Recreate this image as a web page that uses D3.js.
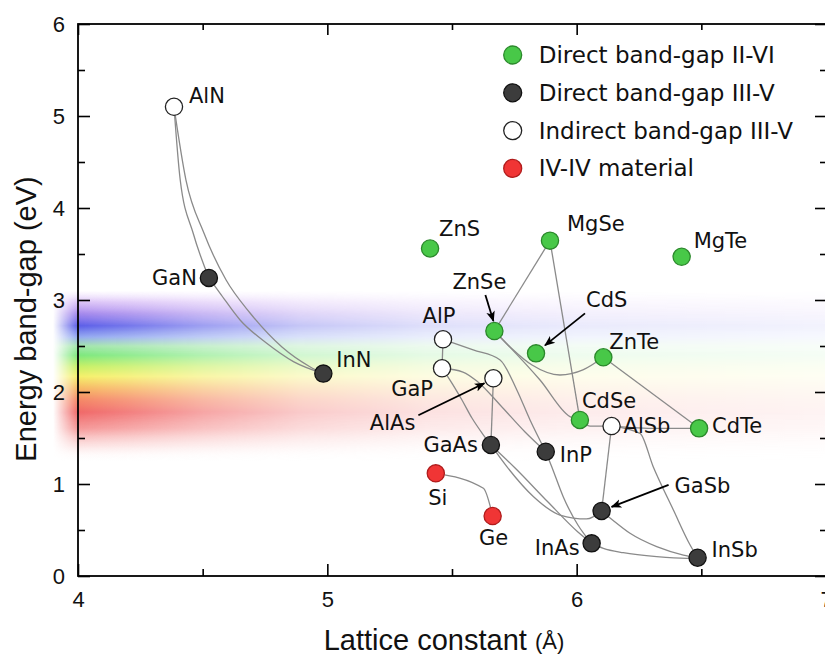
<!DOCTYPE html>
<html>
<head>
<meta charset="utf-8">
<script src="https://cdn.jsdelivr.net/npm/d3@7"></script>
<style>
  body { margin: 0; background: #fff; }
  svg { display: block; }
</style>
</head>
<body>
<script>
// Materials: lattice constant (Å) and band-gap (eV)
const materials = ["AlN", "GaN", "InN", "ZnS", "MgSe", "MgTe", "ZnSe", "CdS", "ZnTe",
  "AlP", "GaP", "AlAs", "CdSe", "AlSb", "CdTe", "GaAs", "InP", "Si", "Ge", "GaSb", "InAs", "InSb"];
const latticeConst = [4.385, 4.525, 4.984, 5.412, 5.893, 6.421, 5.670, 5.837, 6.107,
  5.464, 5.460, 5.666, 6.013, 6.140, 6.491, 5.656, 5.876, 5.435, 5.663, 6.100, 6.060, 6.485];
const bandGap = [5.10, 3.24, 2.20, 3.56, 3.645, 3.47, 2.663, 2.42, 2.377,
  2.573, 2.258, 2.149, 1.696, 1.63, 1.605, 1.424, 1.351, 1.116, 0.652, 0.707, 0.355, 0.199];
const materialType = ["ind", "dir", "dir", "ii", "ii", "ii", "ii", "ii", "ii",
  "ind", "ind", "ind", "ii", "ind", "ii", "dir", "dir", "iv", "iv", "dir", "dir", "dir"];

// Legend entries
const legendKeys = ["ii", "dir", "ind", "iv"];
const legendLabels = ["Direct band-gap II-VI", "Direct band-gap III-V", "Indirect band-gap III-V", "IV-IV material"];

// Alloy curves: endpoints plus points the curve passes through (Å, eV)
const links = [
  ["AlN", "GaN", [[4.41, 4.304], [4.462, 3.725]]],
  ["AlN", "InN", [[4.433, 4.304], [4.505, 3.728], [4.594, 3.217], [4.69, 2.859], [4.818, 2.489], [4.93, 2.275]]],
  ["GaN", "InN", [[4.57, 3.073], [4.65, 2.783], [4.757, 2.529], [4.864, 2.33]]],
  ["ZnSe", "MgSe", []],
  ["MgSe", "CdSe", []],
  ["ZnSe", "ZnTe", [[5.733, 2.489], [5.821, 2.293], [5.933, 2.185], [6.025, 2.24]]],
  ["ZnSe", "CdSe", [[5.853, 2.13], [5.973, 1.732]]],
  ["ZnTe", "CdTe", []],
  ["CdSe", "AlSb", [[6.053, 1.63]]],
  ["AlSb", "CdTe", [[6.321, 1.605]]],
  ["AlP", "GaP", []],
  ["AlP", "InP", [[5.585, 2.457], [5.693, 2.348], [5.76, 2.022], [5.813, 1.696]]],
  ["GaP", "InP", [[5.544, 2.217], [5.604, 2.109], [5.693, 1.859], [5.793, 1.565]]],
  ["GaP", "GaAs", [[5.492, 2.13], [5.54, 1.913], [5.58, 1.717], [5.624, 1.54]]],
  ["AlAs", "GaAs", []],
  ["GaAs", "InAs", [[5.753, 1.174], [5.885, 0.804], [6.005, 0.478]]],
  ["GaAs", "GaSb", [[5.72, 1.188], [5.827, 0.862], [5.933, 0.663], [6.04, 0.62]]],
  ["InP", "InAs", [[5.9, 1.188], [5.946, 0.862], [6.005, 0.554]]],
  ["AlSb", "GaSb", []],
  ["AlSb", "InSb", [[6.254, 1.551], [6.307, 1.188], [6.388, 0.717], [6.455, 0.337]]],
  ["GaSb", "InSb", [[6.144, 0.609], [6.214, 0.464], [6.321, 0.319], [6.428, 0.228]]],
  ["InAs", "InSb", [[6.107, 0.301], [6.187, 0.253], [6.321, 0.21], [6.441, 0.192]]],
  ["Si", "Ge", [[5.626, 0.953]]]
];

// Rainbow band (visible spectrum) colour stops by photon energy (eV)
const spectrumEnergy = [3.10, 2.98, 2.86, 2.72, 2.60, 2.50, 2.40, 2.28, 2.17, 2.04, 1.92, 1.78, 1.60, 1.42, 1.24];
const spectrumColor = ["#d8b4f8", "#c095f2", "#9a78ea", "#5b5ee8", "#8ea4f0", "#9ee4a8", "#7de87d", "#c6f066",
  "#f5f06a", "#f7b864", "#f58a66", "#f06868", "#f38888", "#f8bcbc", "#ffffff"];
const spectrumOpacity = [0, 0.55, 0.85, 1, 0.95, 0.95, 1, 1, 1, 1, 1, 1, 0.85, 0.45, 0];

const xTicks = [4, 5, 6, 7];
const xMinor = [4.5, 5.5, 6.5];
const yTicks = [0, 1, 2, 3, 4, 5, 6];
const yMinor = [0.5, 1.5, 2.5, 3.5, 4.5, 5.5];

// Label placement (pixels from the point, text baseline)
const labelPos = {
  AlN: [15, -4, "start"], GaN: [-12, 7, "end"], InN: [13, -7, "start"], ZnS: [9, -12, "start"],
  MgSe: [17, -10, "start"], MgTe: [12, -9, "start"], ZnSe: [-15, -42, "middle"], CdS: [50, -46, "start"],
  ZnTe: [6, -8, "start"], AlP: [-4, -16, "middle"], GaP: [-9, 28, "end"], AlAs: [-78, 52, "end"],
  CdSe: [2, -12, "start"], AlSb: [12, 7, "start"], CdTe: [13, 5, "start"], GaAs: [-13, 7, "end"],
  InP: [14, 10, "start"], Si: [2, 32, "middle"], Ge: [1, 29, "middle"], GaSb: [73, -18, "start"],
  InAs: [-12, 12, "end"], InSb: [14, -1, "start"]
};
// Arrows: [material, start dx, start dy, end dx, end dy]
const arrows = [
  ["ZnSe", -9, -36, -1, -10],
  ["CdS", 49, -40, 9, -8],
  ["AlAs", -75, 37, -9, 5],
  ["GaSb", 67, -26, 10, -4]
];

const fills = { ii: "#48c848", dir: "#3c3c3c", ind: "#ffffff", iv: "#f03535" };
const strokes = { ii: "#2b882b", dir: "#111111", ind: "#222222", iv: "#b01c1c" };

const W = 825, H = 657;
const margin = { top: 24, right: -1, bottom: 81, left: 78 };
const width = W - margin.left - margin.right;
const height = H - margin.top - margin.bottom;

const svg = d3.select("body").append("svg")
  .attr("width", W)
  .attr("height", H);

const g = svg.append("g")
  .attr("transform", "translate(" + margin.left + "," + margin.top + ")");

const x = d3.scaleLinear().domain([4, 7]).range([0, width]);
const y = d3.scaleLinear().domain([0, 6]).range([height, 0]);

const pts = {};
materials.forEach((m, i) => { pts[m] = { name: m, a: latticeConst[i], e: bandGap[i], type: materialType[i] }; });

// Rainbow band
const defs = svg.append("defs");
const vg = defs.append("linearGradient")
  .attr("id", "spectrum")
  .attr("gradientUnits", "userSpaceOnUse")
  .attr("x1", 0).attr("x2", 0)
  .attr("y1", y(spectrumEnergy[0])).attr("y2", y(spectrumEnergy[spectrumEnergy.length - 1]));
const span = spectrumEnergy[0] - spectrumEnergy[spectrumEnergy.length - 1];
spectrumEnergy.forEach((e, i) => {
  vg.append("stop")
    .attr("offset", (spectrumEnergy[0] - e) / span)
    .attr("stop-color", spectrumColor[i])
    .attr("stop-opacity", spectrumOpacity[i]);
});
const fadeX = [3.9, 4.0, 4.2, 4.5, 4.9, 5.4, 6.0, 7.0];
const fadeA = [0, 1, 0.85, 0.6, 0.35, 0.2, 0.13, 0.08];
const hg = defs.append("linearGradient")
  .attr("id", "fade")
  .attr("gradientUnits", "userSpaceOnUse")
  .attr("x1", x(fadeX[0])).attr("x2", x(fadeX[fadeX.length - 1]))
  .attr("y1", 0).attr("y2", 0);
fadeX.forEach((v, i) => {
  hg.append("stop")
    .attr("offset", (v - fadeX[0]) / (fadeX[fadeX.length - 1] - fadeX[0]))
    .attr("stop-color", "#fff")
    .attr("stop-opacity", fadeA[i]);
});
defs.append("mask").attr("id", "fadeMask")
  .append("rect")
  .attr("x", x(fadeX[0])).attr("y", y(3.2))
  .attr("width", x(7) - x(fadeX[0])).attr("height", y(1.1) - y(3.2))
  .attr("fill", "url(#fade)");

g.append("rect")
  .attr("x", x(fadeX[0])).attr("y", y(3.2))
  .attr("width", x(7) - x(fadeX[0])).attr("height", y(1.1) - y(3.2))
  .attr("fill", "url(#spectrum)")
  .attr("mask", "url(#fadeMask)");

// Arrow marker
defs.append("marker")
  .attr("id", "head")
  .attr("viewBox", "0 0 10 10")
  .attr("refX", 9).attr("refY", 5)
  .attr("markerWidth", 6).attr("markerHeight", 6)
  .attr("markerUnits", "strokeWidth")
  .attr("orient", "auto")
  .append("path")
  .attr("d", "M0,1 L10,5 L0,9 L2.5,5 Z")
  .attr("fill", "#000");

// Alloy curves
const line = d3.line()
  .x(d => x(d[0]))
  .y(d => y(d[1]))
  .curve(d3.curveMonotoneX);

g.selectAll(".link")
  .data(links)
  .enter().append("path")
  .attr("class", "link")
  .attr("d", d => line([[pts[d[0]].a, pts[d[0]].e]].concat(d[2], [[pts[d[1]].a, pts[d[1]].e]])))
  .attr("fill", "none")
  .attr("stroke", "#8a8a8a")
  .attr("stroke-width", 1.3);

// Arrows
g.selectAll(".arrow")
  .data(arrows)
  .enter().append("line")
  .attr("class", "arrow")
  .attr("x1", d => x(pts[d[0]].a) + d[1])
  .attr("y1", d => y(pts[d[0]].e) + d[2])
  .attr("x2", d => x(pts[d[0]].a) + d[3])
  .attr("y2", d => y(pts[d[0]].e) + d[4])
  .attr("stroke", "#000")
  .attr("stroke-width", 1.8)
  .attr("marker-end", "url(#head)");

// Points
const pointData = materials.map(m => pts[m]);
g.selectAll(".pt")
  .data(pointData)
  .enter().append("circle")
  .attr("class", "pt")
  .attr("cx", d => x(d.a))
  .attr("cy", d => y(d.e))
  .attr("r", 8.6)
  .attr("fill", d => fills[d.type])
  .attr("stroke", d => strokes[d.type])
  .attr("stroke-width", 1.3);

// Point labels
g.selectAll(".lbl")
  .data(pointData)
  .enter().append("text")
  .attr("class", "lbl")
  .attr("x", d => x(d.a) + labelPos[d.name][0])
  .attr("y", d => y(d.e) + labelPos[d.name][1])
  .attr("text-anchor", d => labelPos[d.name][2])
  .style("font-family", "DejaVu Sans, Verdana, sans-serif")
  .style("font-size", "21px")
  .style("fill", "#111")
  .text(d => d.name);

// Axes (ticks pointing inward on all four sides)
const font = "Liberation Sans, Arial, sans-serif";
function styleAxis(sel) {
  sel.select(".domain").remove();
  sel.selectAll("line").attr("stroke", "#000").attr("stroke-width", 1.6);
  sel.selectAll("text").style("font-family", font).style("font-size", "22px").style("fill", "#111");
}
g.append("g").attr("transform", "translate(0," + height + ")")
  .call(d3.axisBottom(x).tickValues(xTicks).tickFormat(d3.format("d")).tickSizeInner(-12).tickSizeOuter(0).tickPadding(15))
  .call(styleAxis);
g.append("g").attr("transform", "translate(0," + height + ")")
  .call(d3.axisBottom(x).tickValues(xMinor).tickFormat("").tickSizeInner(-7).tickSizeOuter(0))
  .call(styleAxis);
g.append("g")
  .call(d3.axisLeft(y).tickValues(yTicks).tickFormat(d3.format("d")).tickSizeInner(-12).tickSizeOuter(0).tickPadding(13))
  .call(styleAxis);
g.append("g")
  .call(d3.axisLeft(y).tickValues(yMinor).tickFormat("").tickSizeInner(-7).tickSizeOuter(0))
  .call(styleAxis);
g.append("g")
  .call(d3.axisTop(x).tickValues(xTicks).tickFormat("").tickSizeInner(-11).tickSizeOuter(0))
  .call(styleAxis);
g.append("g")
  .call(d3.axisTop(x).tickValues(xMinor).tickFormat("").tickSizeInner(-6).tickSizeOuter(0))
  .call(styleAxis);
g.append("g").attr("transform", "translate(" + width + ",0)")
  .call(d3.axisRight(y).tickValues(yTicks).tickFormat("").tickSizeInner(-11).tickSizeOuter(0))
  .call(styleAxis);
g.append("g").attr("transform", "translate(" + width + ",0)")
  .call(d3.axisRight(y).tickValues(yMinor).tickFormat("").tickSizeInner(-6).tickSizeOuter(0))
  .call(styleAxis);

// Frame
g.append("rect")
  .attr("width", width)
  .attr("height", height)
  .attr("fill", "none")
  .attr("stroke", "#000")
  .attr("stroke-width", 1.8);

// Axis titles
const xt = g.append("text")
  .attr("x", width / 2 - 8)
  .attr("y", height + 74)
  .attr("text-anchor", "middle")
  .style("font-family", font)
  .style("font-size", "29px")
  .style("fill", "#111");
xt.append("tspan").text("Lattice constant ");
xt.append("tspan").attr("dy", -1).style("font-size", "22px").text("(Å)");

g.append("text")
  .attr("transform", "rotate(-90)")
  .attr("x", -(295))
  .attr("y", -42)
  .attr("text-anchor", "middle")
  .style("font-family", font)
  .style("font-size", "29px")
  .style("fill", "#111")
  .text("Energy band-gap (eV)");

// Legend
const legend = g.selectAll(".legend")
  .data(legendKeys)
  .enter().append("g")
  .attr("class", "legend")
  .attr("transform", (d, i) => "translate(" + (512.7 - margin.left) + "," + (55 - margin.top + i * 37.8) + ")");

legend.append("circle")
  .attr("r", 9)
  .attr("fill", d => fills[d])
  .attr("stroke", d => strokes[d])
  .attr("stroke-width", 1.3);

legend.append("text")
  .attr("x", 26)
  .attr("y", 8)
  .style("font-family", "DejaVu Sans, Verdana, sans-serif")
  .style("font-size", "23px")
  .style("fill", "#111")
  .text((d, i) => legendLabels[i]);
</script>
</body>
</html>
